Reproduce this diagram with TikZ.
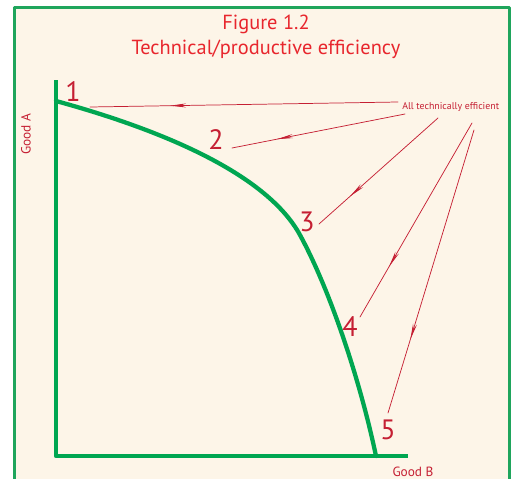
\documentclass[tikz,border=0pt]{standalone}
\usepackage{fontspec}
\setmainfont{PT Sans}
\usetikzlibrary{arrows.meta,decorations.markings}
\definecolor{paper}{HTML}{FDF5E8}
\definecolor{framegreen}{HTML}{1FA55C}
\definecolor{ppfgreen}{HTML}{00A651}
\definecolor{titlered}{HTML}{E8262D}
\definecolor{numred}{HTML}{C51F33}
\tikzset{
  every picture/.style={line join=round, line cap=round, >=Stealth},
  axis/.style={ppfgreen, line width=3.4pt, line cap=butt},
  num/.style={text=numred, font=\fontsize{21}{21}\selectfont, inner sep=0pt},
  small/.style={text=numred, font=\fontsize{7.4}{7.4}\selectfont, inner sep=0pt},
  pointer/.style={numred, line width=0.55pt, postaction={decorate},
    decoration={markings, mark=at position 0.74 with {\arrow{Stealth[length=12pt,width=3pt]}}}},
}

\begin{document}
\begin{tikzpicture}[x=0.75pt,y=-0.75pt]
\useasboundingbox (0,0) rectangle (512,479);
\clip (0,0) rectangle (512,479);
\draw[framegreen, line width=2.2pt, fill=paper] (14.5,7.5) rectangle (509.5,520);
\node[text=titlered, font=\fontsize{15.3}{19}\selectfont, align=center] (title) at (266,37) {Figure 1.2\\Technical/productive efficiency};
\draw[axis] (56,80)--(56,456)--(408,456);
\draw[ppfgreen, line width=3.2pt] (56,101) .. controls (180,135) and (270,180) .. (300,235) .. controls (330,290) and (360,380) .. (376,456);
\node[num] (n1) at (73,92) {1};
\node[num] (n2) at (216,140) {2};
\node[num] (n3) at (307,222) {3};
\node[num] (n4) at (350,327) {4};
\node[num] (n5) at (388,430) {5};
\node[small, anchor=west] (eff) at (402,107) {All technically efficient};
\node[small, font=\fontsize{10}{10}\selectfont, rotate=90] (gooda) at (26,134) {Good A};
\node[small, font=\fontsize{10}{10}\selectfont] (goodb) at (413,472) {Good B};
\coordinate (s1) at (398,102);
\coordinate (s2) at (405,114);
\coordinate (s3) at (438,118);
\coordinate (s4) at (472,123);
\coordinate (s5) at (474,130);
\coordinate (e1) at (90,107);
\coordinate (e2) at (232,148);
\coordinate (e3) at (319,224);
\coordinate (e4) at (360,317);
\coordinate (e5) at (388,413);
\foreach \i in {1,...,5}
  \draw[pointer] (s\i)--(e\i);
\end{tikzpicture}
\end{document}
